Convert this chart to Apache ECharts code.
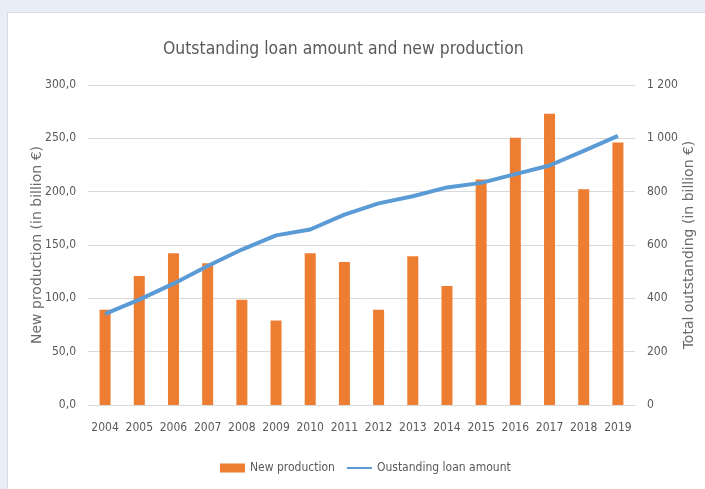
<!DOCTYPE html>
<html><head><meta charset="utf-8">
<script src="https://cdn.jsdelivr.net/npm/echarts@6/dist/echarts.min.js"></script>
<style>
html,body{margin:0;padding:0;background:#e7eef6;width:705px;height:489px;overflow:hidden;}
#c{position:absolute;left:7px;top:12px;width:698px;height:477px;background:#fff;border-left:1px solid #d6dbe0;border-top:1px solid #d6dbe0;}
</style></head>
<body><div id="c"></div>
<script>
const years = ['2004','2005','2006','2007','2008','2009','2010','2011','2012','2013','2014','2015','2016','2017','2018','2019'];
const newProduction = [89.3, 121, 142.2, 133, 98.7, 79.2, 142.2, 134, 89.3, 139.4, 111.5, 211.5, 250.5, 273, 202.3, 246];
const outstanding = [342, 395, 455, 521, 583, 636, 658, 714, 756, 783, 816, 833, 866, 898, 953, 1009];
const leftTicks = [0, 300, 50];
const rightTicks = [0, 1200, 200];

const FONT = '"Liberation Sans Narrow","DejaVu Sans Condensed","Liberation Sans",sans-serif';
const chart = echarts.init(document.getElementById('c'), null, {renderer:'canvas'});
chart.setOption({
  animation:false,
  textStyle:{fontFamily:FONT},
  title:{text:'Outstanding loan amount and new production',left:150,top:23,
    textStyle:{fontFamily:FONT,fontSize:17.4,fontWeight:'normal',color:'#595959'}},
  legend:{bottom:11,left:207,itemGap:12,itemWidth:25,itemHeight:9,
    textStyle:{fontFamily:FONT,fontSize:12,color:'#595959'},
    data:[{name:'New production',icon:'rect'},{name:'Oustanding loan amount',icon:'path://M0,4 L25,4 L25,6 L0,6 Z'}]},
  grid:{left:80,right:71,top:72,bottom:85,outerBoundsMode:'none',containLabel:false},
  xAxis:{type:'category',data:years,
    axisLine:{lineStyle:{color:'#d9d9d9',width:1}},axisTick:{show:false},
    axisLabel:{fontFamily:FONT,fontSize:12,color:'#595959',margin:17,interval:0}},
  yAxis:[
    {type:'value',min:leftTicks[0],max:leftTicks[1],interval:leftTicks[2],
     name:'New production (in billion €)',nameLocation:'middle',nameGap:44,nameRotate:90,nameMoveOverlap:false,
     nameTextStyle:{fontFamily:'"DejaVu Sans",sans-serif',fontSize:14,color:'#6a6a6a'},
     axisLabel:{fontFamily:FONT,fontSize:12,color:'#595959',margin:12,formatter:v=>v.toFixed(1).replace('.',',')},
     splitLine:{lineStyle:{color:'#d9d9d9',width:1}},axisLine:{show:false},axisTick:{show:false}},
    {type:'value',min:rightTicks[0],max:rightTicks[1],interval:rightTicks[2],
     name:'Total outstanding (in billion €)',nameLocation:'middle',nameGap:47,nameRotate:90,nameMoveOverlap:false,
     nameTextStyle:{fontFamily:'"DejaVu Sans",sans-serif',fontSize:14,color:'#6a6a6a'},
     axisLabel:{fontFamily:FONT,fontSize:12,color:'#595959',margin:12,
       formatter:v=>v>=1000?String(Math.floor(v/1000))+' '+String(v%1000).padStart(3,'0'):String(v)},
     splitLine:{show:false},axisLine:{show:false},axisTick:{show:false}}
  ],
  series:[
    {name:'New production',type:'bar',data:newProduction,barWidth:11,yAxisIndex:0,
     itemStyle:{color:'#ed7d31'}},
    {name:'Oustanding loan amount',type:'line',data:outstanding,yAxisIndex:1,
     showSymbol:false,symbol:'none',lineStyle:{color:'#5b9bd5',width:4},itemStyle:{color:'#5b9bd5'}}
  ]
});
</script></body></html>
